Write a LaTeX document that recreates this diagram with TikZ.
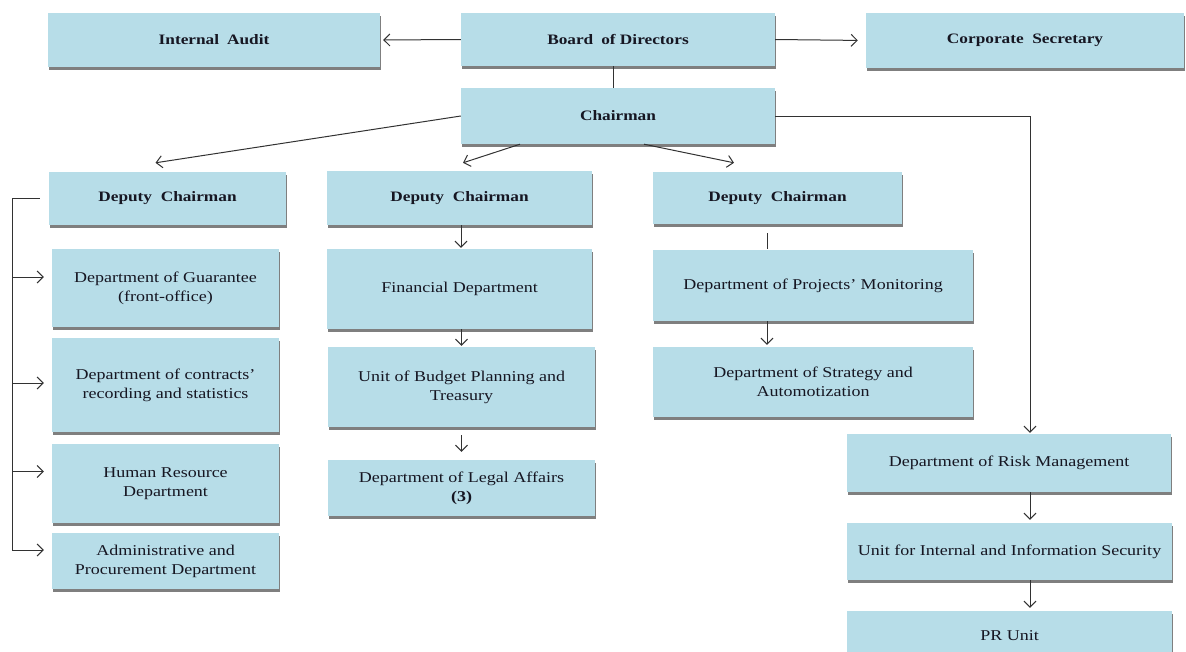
\documentclass[tikz,border=0pt]{standalone}
\usepackage{fontspec}
\setmainfont{Liberation Serif}[FakeStretch=1.2]
\usetikzlibrary{arrows.meta,calc,shadows}
\definecolor{boxfill}{RGB}{183,221,232}
\definecolor{inkc}{RGB}{22,22,34}
\definecolor{linec}{RGB}{50,50,50}
\begin{document}
\begin{tikzpicture}[x=1pt,y=-1pt,
  orgbox/.style={fill=boxfill, draw=none, inner sep=0pt, align=center, text=inkc,
    font=\fontsize{15}{19}\selectfont,
    drop shadow={shadow xshift=1.2pt, shadow yshift=-2.5pt, fill=black, opacity=0.5}},
  headbox/.style={orgbox, font=\fontsize{14.4}{18}\selectfont\bfseries},
  link/.style={draw=linec, line width=1pt},
  arr/.style={link, -{Straight Barb[length=6pt,width=12pt]}},
]
\useasboundingbox (0,0) rectangle (1186,651);
\clip (0,0) rectangle (1186,651);

% top level
\node[headbox, minimum width=332pt, minimum height=54pt] (ia)  at (214,40)   {Internal\hspace{0.25em} Audit};
\node[headbox, minimum width=314pt, minimum height=53pt] (bod) at (618,39.5) {Board\hspace{0.25em} of Directors};
\node[headbox, minimum width=318pt, minimum height=55pt] (cs)  at (1025,40.5) {Corporate\hspace{0.3em} Secretary};
\node[headbox, minimum width=314pt, minimum height=56pt] (ch)  at (618,116)  {Chairman};

% deputies
\node[headbox, minimum width=237pt, minimum height=53pt] (dc1) at (167.5,198.5) {Deputy\hspace{0.3em} Chairman};
\node[headbox, minimum width=265pt, minimum height=54pt] (dc2) at (459.5,198)   {Deputy\hspace{0.3em} Chairman};
\node[headbox, minimum width=249pt, minimum height=52pt] (dc3) at (777.5,198)   {Deputy\hspace{0.3em} Chairman};

% first deputy's departments
\node[orgbox, minimum width=227pt, minimum height=78pt] (g1) at (165.5,288)   {Department of Guarantee\\(front-office)};
\node[orgbox, minimum width=227pt, minimum height=94pt] (g2) at (165.5,385)   {Department of contracts’\\recording and statistics};
\node[orgbox, minimum width=227pt, minimum height=79pt] (g3) at (165.5,483.5) {Human Resource\\Department};
\node[orgbox, minimum width=227pt, minimum height=56pt] (g4) at (165.5,561)   {Administrative and\\Procurement Department};

% second deputy's units
\node[orgbox, minimum width=265pt, minimum height=80pt] (f1) at (459.5,289) {Financial Department};
\node[orgbox, minimum width=267pt, minimum height=80pt] (f2) at (461.5,387) {Unit of Budget Planning and\\Treasury};
\node[orgbox, minimum width=267pt, minimum height=56pt] (f3) at (461.5,488) {Department of Legal Affairs\\\textbf{(3)}};

% third deputy's departments
\node[orgbox, minimum width=320pt, minimum height=71pt] (p1) at (813,285.5) {Department of Projects’ Monitoring};
\node[orgbox, minimum width=320pt, minimum height=70pt] (p2) at (813,382)   {Department of Strategy and\\Automotization};

% chairman's own units
\node[orgbox, minimum width=324pt, minimum height=58pt] (r1) at (1009,463)   {Department of Risk Management};
\node[orgbox, minimum width=325pt, minimum height=57pt] (r2) at (1009.5,551.5) {Unit for Internal and Information Security};
\node[orgbox, minimum width=325pt, minimum height=49pt] (r3) at (1009.5,635.5) {PR Unit};

% connectors
\draw[arr, shorten >=3pt] (bod.west) -- (ia.east);
\draw[arr, shorten >=8pt] (bod.east) -- (cs.west);
\draw[link] ($(bod.south)+(-5,0)$) -- ($(ch.north)+(-5,0)$);

\draw[arr] (ch.west) -- ($(dc1.north)+(-12,-9)$);
\draw[arr] ($(ch.south)+(-98,0)$) -- ($(dc2.north)+(3.5,-8)$);
\draw[arr] ($(ch.south)+(26,0)$) -- ($(dc3.north)+(-43.5,-9)$);
\draw[arr] (ch.east) -| ($(r1.north)+(21,-1)$);

\draw[arr] ($(dc1.west)+(-9,0)$) -| ($(g4.west)+(-39,-11)$) -- ($(g4.west)+(-8,-11)$);
\draw[arr] ($(g1.west)+(-39,-11)$) -- ($(g1.west)+(-8,-11)$);
\draw[arr] ($(g2.west)+(-39,-2)$) -- ($(g2.west)+(-8,-2)$);
\draw[arr] ($(g3.west)+(-39,-12)$) -- ($(g3.west)+(-8,-12)$);

\draw[arr] ($(dc2.south)+(1.5,0)$) -- ($(f1.north)+(1.5,-1)$);
\draw[arr] ($(f1.south)+(2,0)$) -- ($(f2.north)+(0,-1)$);
\draw[arr] ($(f2.south)+(0,8)$) -- ($(f3.north)+(0,-8)$);

\draw[link] ($(dc3.south)+(-10.5,9)$) -- ($(p1.north)+(-46,-1)$);
\draw[arr] ($(p1.south)+(-46,0)$) -- ($(p2.north)+(-46,-2)$);

\draw[arr] ($(r1.south)+(21,0)$) -- ($(r2.north)+(20.5,-3)$);
\draw[arr] ($(r2.south)+(20.5,0)$) -- ($(r3.north)+(20.5,-3)$);
\end{tikzpicture}
\end{document}
